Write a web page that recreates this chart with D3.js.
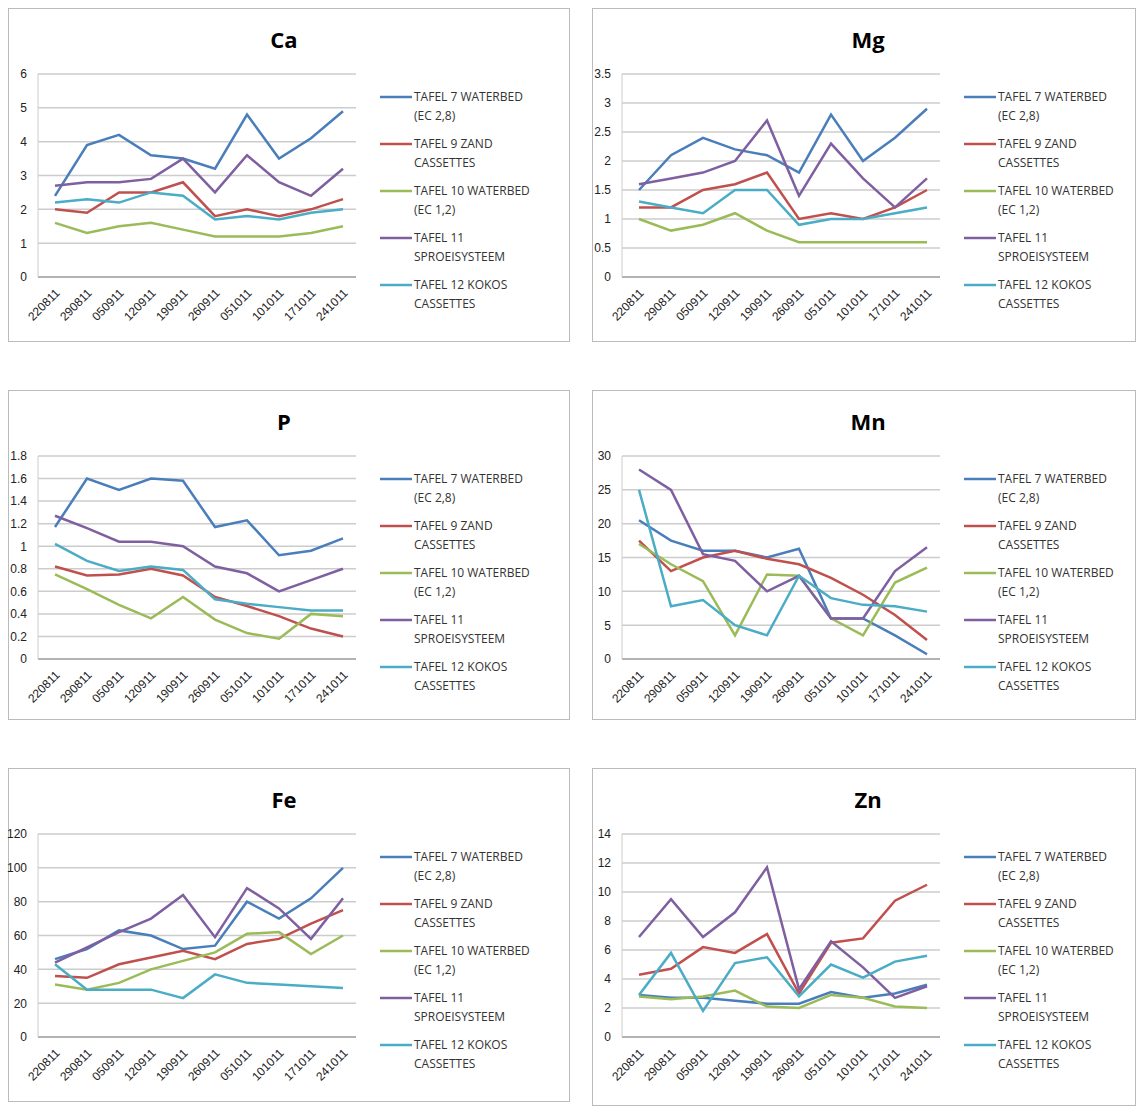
<!DOCTYPE html><html><head><meta charset="utf-8">
<script src="https://cdn.jsdelivr.net/npm/d3@7"></script>
<style>body{margin:0;background:#fff}svg{font-family:"Open Sans","Liberation Sans",sans-serif}</style></head><body>
<svg id="c" width="1136" height="1108"></svg>
<script>
const categories=["220811","290811","050911","120911","190911","260911","051011","101011","171011","241011"];
const seriesNames=[["TAFEL 7  WATERBED","(EC 2,8)"],["TAFEL 9  ZAND","CASSETTES"],["TAFEL 10 WATERBED","(EC 1,2)"],["TAFEL 11","SPROEISYSTEEM"],["TAFEL 12 KOKOS","CASSETTES"]];
const colors=["#4a7ebb","#c0504d","#9bbb59","#7f5fa0","#4bacc6"];
const ca=[[2.4,3.9,4.2,3.6,3.5,3.2,4.8,3.5,4.1,4.9],[2.0,1.9,2.5,2.5,2.8,1.8,2.0,1.8,2.0,2.3],[1.6,1.3,1.5,1.6,1.4,1.2,1.2,1.2,1.3,1.5],[2.7,2.8,2.8,2.9,3.5,2.5,3.6,2.8,2.4,3.2],[2.2,2.3,2.2,2.5,2.4,1.7,1.8,1.7,1.9,2.0]];
const mg=[[1.5,2.1,2.4,2.2,2.1,1.8,2.8,2.0,2.4,2.9],[1.2,1.2,1.5,1.6,1.8,1.0,1.1,1.0,1.2,1.5],[1.0,0.8,0.9,1.1,0.8,0.6,0.6,0.6,0.6,0.6],[1.6,1.7,1.8,2.0,2.7,1.4,2.3,1.7,1.2,1.7],[1.3,1.2,1.1,1.5,1.5,0.9,1.0,1.0,1.1,1.2]];
const p=[[1.17,1.6,1.5,1.6,1.58,1.17,1.23,0.92,0.96,1.07],[0.82,0.74,0.75,0.8,0.74,0.55,0.47,0.38,0.27,0.2],[0.75,0.62,0.48,0.36,0.55,0.35,0.23,0.18,0.4,0.38],[1.27,1.16,1.04,1.04,1.0,0.82,0.76,0.6,0.7,0.8],[1.02,0.87,0.78,0.82,0.79,0.53,0.49,0.46,0.43,0.43]];
const mn=[[20.5,17.5,16,16,15,16.3,6,6,3.5,0.7],[17.5,13,15,16,14.8,14,12,9.5,6.5,2.8],[17,14,11.5,3.5,12.5,12.3,6,3.5,11.3,13.5],[28,25,15.5,14.5,10,12.3,6,6,13,16.5],[25,7.8,8.7,5,3.5,12.3,9,8,7.8,7]];
const fe=[[46,52,63,60,52,54,80,70,82,100],[36,35,43,47,51,46,55,58,67,75],[31,28,32,40,45,50,61,62,49,60],[44,53,62,70,84,59,88,76,58,82],[43,28,28,28,23,37,32,31,30,29]];
const zn=[[2.9,2.7,2.7,2.5,2.3,2.3,3.1,2.7,3.0,3.6],[4.3,4.7,6.2,5.8,7.1,3.0,6.5,6.8,9.4,10.5],[2.8,2.6,2.8,3.2,2.1,2.0,2.9,2.7,2.1,2.0],[6.9,9.5,6.9,8.6,11.7,3.3,6.6,4.8,2.7,3.5],[2.9,5.8,1.8,5.1,5.5,2.8,5.0,4.1,5.2,5.6]];
const panels=[
 {t:"Ca",d:ca,max:6,step:1,x:8,y:8,w:562,h:334,fmt:d=>d},
 {t:"Mg",d:mg,max:3.5,step:0.5,x:592,y:8,w:544,h:334,fmt:d=>d},
 {t:"P",d:p,max:1.8,step:0.2,x:8,y:390,w:562,h:330,fmt:d=>+d.toFixed(1)},
 {t:"Mn",d:mn,max:30,step:5,x:592,y:390,w:544,h:330,fmt:d=>d},
 {t:"Fe",d:fe,max:120,step:20,x:8,y:768,w:562,h:334,fmt:d=>d},
 {t:"Zn",d:zn,max:14,step:2,x:592,y:768,w:544,h:338,fmt:d=>d}];
const svg=d3.select("#c");
panels.forEach(P=>{
 const g=svg.append("g").attr("transform",`translate(${P.x},${P.y})`);
 g.append("rect").attr("x",0.5).attr("y",0.5).attr("width",P.w-1).attr("height",P.h-1).attr("fill","#fff").attr("stroke","#bbb");
 g.append("text").attr("x",276).attr("y",40).attr("text-anchor","middle").attr("font-size",22).attr("font-weight","bold").text(P.t);
 const x=d3.scalePoint().domain(categories).range([47,335]);
 const y=d3.scaleLinear().domain([0,P.max]).range([269,66]);
 const ticks=d3.range(0,P.max+P.step/2,P.step);
 g.append("g").selectAll("line").data(ticks).join("line").attr("x1",30).attr("x2",348).attr("y1",d=>y(d)).attr("y2",d=>y(d)).attr("stroke",d=>d===0?"#999":"#ccc").attr("stroke-width",1.5);
 g.append("line").attr("x1",30).attr("x2",30).attr("y1",66).attr("y2",269).attr("stroke","#ccc");
 const ya=g.append("g").attr("transform","translate(22,0)").call(d3.axisLeft(y).tickValues(ticks).tickSize(0).tickFormat(P.fmt));
 ya.select(".domain").remove();ya.selectAll("text").attr("font-size",12).attr("fill","#222");
 const xa=g.append("g").attr("transform","translate(0,275)").call(d3.axisBottom(x).tickSize(0));
 xa.select(".domain").remove();
 xa.selectAll("text").attr("font-size",12).attr("fill","#222").attr("text-anchor","end").attr("dy","0.35em").attr("transform","rotate(-45) translate(-4,4)");
 const line=d3.line().x((d,i)=>x(categories[i])).y(d=>y(d));
 P.d.forEach((s,i)=>g.append("path").attr("d",line(s)).attr("fill","none").attr("stroke",colors[i]).attr("stroke-width",2.5));
 const lg=g.append("g").attr("transform","translate(372,89)");
 seriesNames.forEach((n,i)=>{
  const yy=i*47;
  lg.append("line").attr("x1",0).attr("x2",32).attr("y1",yy).attr("y2",yy).attr("stroke",colors[i]).attr("stroke-width",2.5);
  lg.append("text").attr("x",34).attr("y",yy+4).attr("font-size",12).attr("fill","#333").text(n[0]);
  lg.append("text").attr("x",34).attr("y",yy+23).attr("font-size",12).attr("fill","#333").text(n[1]);
 });
});
</script></body></html>
